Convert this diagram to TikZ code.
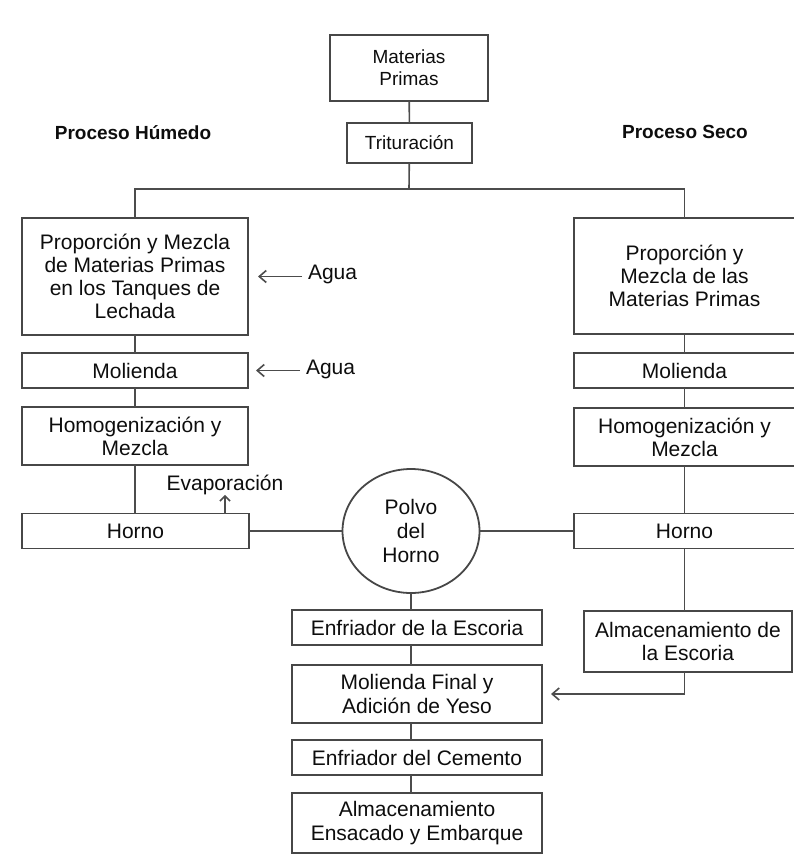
\documentclass[tikz,border=0pt]{standalone}
\usepackage{fontspec}
\setmainfont{Liberation Sans}
\usetikzlibrary{arrows.meta,shapes.geometric}
\begin{document}
\begin{tikzpicture}[x=1pt,y=-1pt,
  every node/.style={font=\fontsize{21}{23.2}\selectfont, text=black!95, inner sep=0pt, outer sep=0pt},
  box/.style={draw=black!72, line width=1.8pt, align=center},
  ln/.style={draw=black!70, line width=1.6pt},
  arr/.style={ln, -{Straight Barb[length=7pt,width=12pt]}},
  hdr/.style={font=\fontsize{19}{22}\selectfont\bfseries},
  small/.style={font=\fontsize{19}{22}\selectfont}]
\useasboundingbox (0,0) rectangle (793,856);

% top
\node[box, small, minimum width=158pt, minimum height=66pt] (mp) at (409,68) {Materias\\Primas};
\node[box, small, minimum width=125pt, minimum height=40pt] (tri) at (409.5,143) {Trituración};
\node[hdr] (hum) at (133,133) {Proceso Húmedo};
\node[hdr] (sec) at (685,132) {Proceso Seco};
\coordinate (j) at (409,189);

% left column (wet process)
\node[box, minimum width=226pt, minimum height=117pt] (L1) at (135,276.5) {Proporción y Mezcla\\de Materias Primas\\en los Tanques de\\Lechada};
\node[box, minimum width=226pt, minimum height=35pt] (L2) at (135,370.5) {Molienda};
\node[box, minimum width=226pt, minimum height=58pt] (L3) at (135,436) {Homogenización y\\Mezcla};
\node[box, minimum width=227pt, minimum height=35pt] (L4) at (135.5,531) {Horno};

% right column (dry process)
\node[box, minimum width=221pt, minimum height=116pt] (R1) at (684.5,276) {Proporción y\\Mezcla de las\\Materias Primas};
\node[box, minimum width=221pt, minimum height=35pt] (R2) at (684.5,370.5) {Molienda};
\node[box, minimum width=221pt, minimum height=58pt] (R3) at (684.5,437) {Homogenización y\\Mezcla};
\node[box, minimum width=221pt, minimum height=35pt] (R4) at (684.5,531) {Horno};

% kiln dust
\node[box, ellipse, minimum width=137pt, minimum height=124pt, font=\fontsize{21}{24}\selectfont] (pol) at (411,531) {Polvo\\del\\Horno};

% centre column
\node[box, minimum width=250pt, minimum height=35pt] (C1) at (417,627.5) {Enfriador de la Escoria};
\node[box, minimum width=250pt, minimum height=58pt] (C2) at (417,694) {Molienda Final y\\Adición de Yeso};
\node[box, minimum width=250pt, minimum height=35pt] (C3) at (417,757.5) {Enfriador del Cemento};
\node[box, minimum width=250pt, minimum height=60pt] (C4) at (417,823) {Almacenamiento\\Ensacado y Embarque};

\node[box, minimum width=208pt, minimum height=61pt] (A) at (688,641.5) {Almacenamiento de\\la Escoria};

% side labels
\node[anchor=west] (ag1) at (308,274) {Agua};
\coordinate (ag1s) at (302,276.5);
\node[anchor=west] (ag2) at (306,369) {Agua};
\coordinate (ag2s) at (300,370.5);
\node (ev) at (225,485) {Evaporación};

% connectors
\draw[ln] (mp) -- (tri);
\draw[ln] (tri) -- (j);
\draw[ln] (L1.north) -- (L1.north |- j) -- (R1.north |- j) -- (R1.north);
\draw[ln] (L1) -- (L2);
\draw[ln] (L2) -- (L3);
\draw[ln] (L3.south) -- (L3.south |- L4.north);
\draw[ln] (R1) -- (R2);
\draw[ln] (R2) -- (R3);
\draw[ln] (R3) -- (R4);
\draw[ln] (L4.east) -- (pol.west);
\draw[ln] (pol.east) -- (R4.west);
\draw[ln] (pol.south) -- (pol.south |- C1.north);
\draw[ln] (C1.south -| pol.south) -- (pol.south |- C2.north);
\draw[ln] (C2.south -| pol.south) -- (pol.south |- C3.north);
\draw[ln] (C3.south -| pol.south) -- (pol.south |- C4.north);
\draw[ln] (R4.south) -- (R4.south |- A.north);
\draw[arr, shorten >=9pt] (R4.south |- A.south) -- (R4.south |- C2.east) -- (C2.east);
\draw[arr, shorten >=10pt] (ag1s) -- (L1.east);
\draw[arr, shorten >=8pt] (ag2s) -- (L2.east);
\draw[ln, -{Straight Barb[length=5pt,width=10pt]}] (ev.south |- L4.north) -- (ev.south);
\end{tikzpicture}
\end{document}
